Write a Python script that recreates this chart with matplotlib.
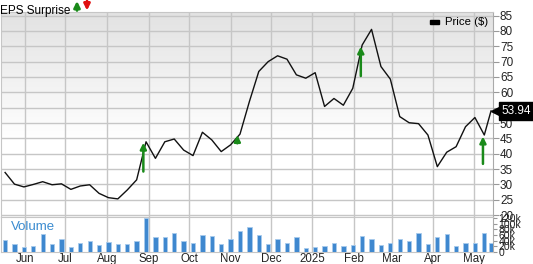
import numpy as np
import pandas as pd
import matplotlib
matplotlib.use('Agg')
import matplotlib.pyplot as plt
import matplotlib.transforms as mtransforms
from matplotlib.patches import Rectangle, FancyArrowPatch

plt.rcParams['font.family'] = ['Liberation Sans', 'DejaVu Sans']

# weekly closes (Fridays) plus last trading day
dates = list(pd.date_range('2024-05-17', periods=52, freq='7D')) + [pd.Timestamp('2025-05-14')]
price = [33.9, 30.1, 29.2, 30.0, 30.9, 29.9, 30.2, 28.4, 29.5, 29.9,
         27.1, 25.7, 25.3, 28.2, 31.5, 43.9, 38.5, 43.9, 44.8, 41.2,
         39.4, 47.0, 44.5, 40.7, 42.9, 46.4, 57.0, 66.8, 70.0, 71.9,
         70.8, 65.7, 64.6, 66.4, 55.4, 58.0, 55.8, 61.3, 75.4, 80.5,
         68.4, 64.3, 52.1, 50.1, 49.8, 46.1, 35.8, 40.5, 42.3, 48.8,
         51.8, 46.1, 53.94]
volume = [41, 29, 18, 22, 64, 29, 47, 19, 33, 40,
          25, 35, 29, 27, 40, 118, 51, 54, 65, 39,
          31, 60, 55, 29, 44, 73, 89, 60, 29, 44,
          32, 53, 13, 19, 22, 32, 20, 26, 56, 45,
          26, 31, 47, 40, 65, 29, 51, 64, 22, 33,
          33, 65, 33]

# EPS surprise arrows (all beats)
eps_dates = pd.to_datetime(['2024-08-28', '2024-11-06', '2025-02-06', '2025-05-08'])
eps_low = [34.2, 43.4, 65.3, 36.7]
eps_high = [43.6, 46.1, 74.9, 45.6]

month_ticks = pd.to_datetime(['2024-06-01', '2024-07-01', '2024-08-01', '2024-09-01',
                              '2024-10-01', '2024-11-01', '2024-12-01', '2025-01-01',
                              '2025-02-01', '2025-03-01', '2025-04-01', '2025-05-01'])
month_labels = ['Jun', 'Jul', 'Aug', 'Sep', 'Oct', 'Nov', 'Dec', '2025',
                'Feb', 'Mar', 'Apr', 'May']

grid_c = '#c6c6c6'
fig = plt.figure(figsize=(5.33, 2.64), dpi=100)
ax = fig.add_axes([0.002, 0.178, 0.923, 0.777])
axv = fig.add_axes([0.002, 0.0455, 0.923, 0.1326], sharex=ax)

# gradient background of price panel
grad = np.linspace(0, 1, 256).reshape(-1, 1)
grad = np.clip(grad * 1.6, 0, 1)
cmap = matplotlib.colors.LinearSegmentedColormap.from_list('g', ['#e2e2e2', '#ffffff'])
ax.imshow(grad, extent=[0, 1, 0, 1], transform=ax.transAxes, aspect='auto',
          cmap=cmap, zorder=0, origin='upper')

ax.plot(dates, price, color='#111111', lw=1.0, zorder=3)

for d, lo, hi in zip(eps_dates, eps_low, eps_high):
    ax.annotate('', xy=(d, hi), xytext=(d, lo),
                arrowprops=dict(arrowstyle='-|>', color='#1a8a1a', lw=1.8,
                                mutation_scale=9, shrinkA=0, shrinkB=0), zorder=4)

xmin, xmax = pd.Timestamp('2024-05-14'), pd.Timestamp('2025-05-15 12:00')
ax.set_xlim(xmin, xmax)
ax.set_ylim(19.4, 86.2)
ax.set_yticks(range(20, 90, 5))
ax.yaxis.tick_right()
ax.tick_params(axis='y', length=4, color='#999999', labelsize=8.5, pad=1, labelcolor='#222222')
ax.set_xticks(month_ticks)
ax.tick_params(axis='x', length=0, labelbottom=False)
ax.grid(True, color=grid_c, lw=1)
for s in ['left', 'bottom', 'top', 'right']:
    ax.spines[s].set_color(grid_c)
ax.spines['right'].set_color('#aaaaaa')

# legend
ax.add_patch(Rectangle((0.872, 0.940), 0.019, 0.022, transform=ax.transAxes,
                       color='black', zorder=5))
ax.text(0.903, 0.952, 'Price ($)', transform=ax.transAxes, fontsize=8.2, va='center', ha='left')

# last price tag
tr = mtransforms.blended_transform_factory(ax.transAxes, ax.transData)
ax.plot([1.006], [price[-1]], marker='<', ms=7, color='black', transform=tr, clip_on=False, zorder=5)
ax.text(1.018, price[-1], f'{price[-1]:.2f}', transform=tr, color='white', fontsize=8.5,
        va='center', ha='left', zorder=6,
        bbox=dict(boxstyle='square,pad=0.25', fc='black', ec='black'))

# volume panel
axv.bar(dates, volume, width=3.2, color='#3f88cf', edgecolor='#a8cbec', lw=0.6, zorder=3)
axv.set_ylim(0, 123)
axv.set_yticks(range(0, 140, 20))
axv.set_yticklabels(['0'] + [f'{v}k' for v in range(20, 140, 20)])
axv.yaxis.tick_right()
axv.tick_params(axis='y', length=3, color='#999999', labelsize=7.5, pad=1, labelcolor='#222222')
axv.set_xticks(month_ticks)
axv.set_xticklabels(month_labels)
axv.tick_params(axis='x', length=0, labelsize=8.3, pad=1, labelcolor='#222222')
axv.grid(True, axis='x', color=grid_c, lw=1)
for s in ['left', 'bottom', 'top', 'right']:
    axv.spines[s].set_color(grid_c)
axv.spines['right'].set_color('#aaaaaa')
axv.text(0.02, 0.72, 'Volume', transform=axv.transAxes, color='#3a8bd0', fontsize=9.5,
         va='center', ha='left')

# header
fig.text(0.0, 0.982, 'EPS Surprise', fontsize=8.5, va='top', ha='left')
fig.patches.append(FancyArrowPatch((77 / 533, 1 - 10.5 / 264), (77 / 533, 1 - 1 / 264),
                   transform=fig.transFigure, arrowstyle='-|>', mutation_scale=9,
                   color='#1a8a1a', lw=2.0, shrinkA=0, shrinkB=0))
fig.patches.append(FancyArrowPatch((87 / 533, 1 - 1 / 264), (87 / 533, 1 - 10.5 / 264),
                   transform=fig.transFigure, arrowstyle='-|>', mutation_scale=9,
                   color='#e01010', lw=2.0, shrinkA=0, shrinkB=0))

fig.savefig('out.png', dpi=100)
